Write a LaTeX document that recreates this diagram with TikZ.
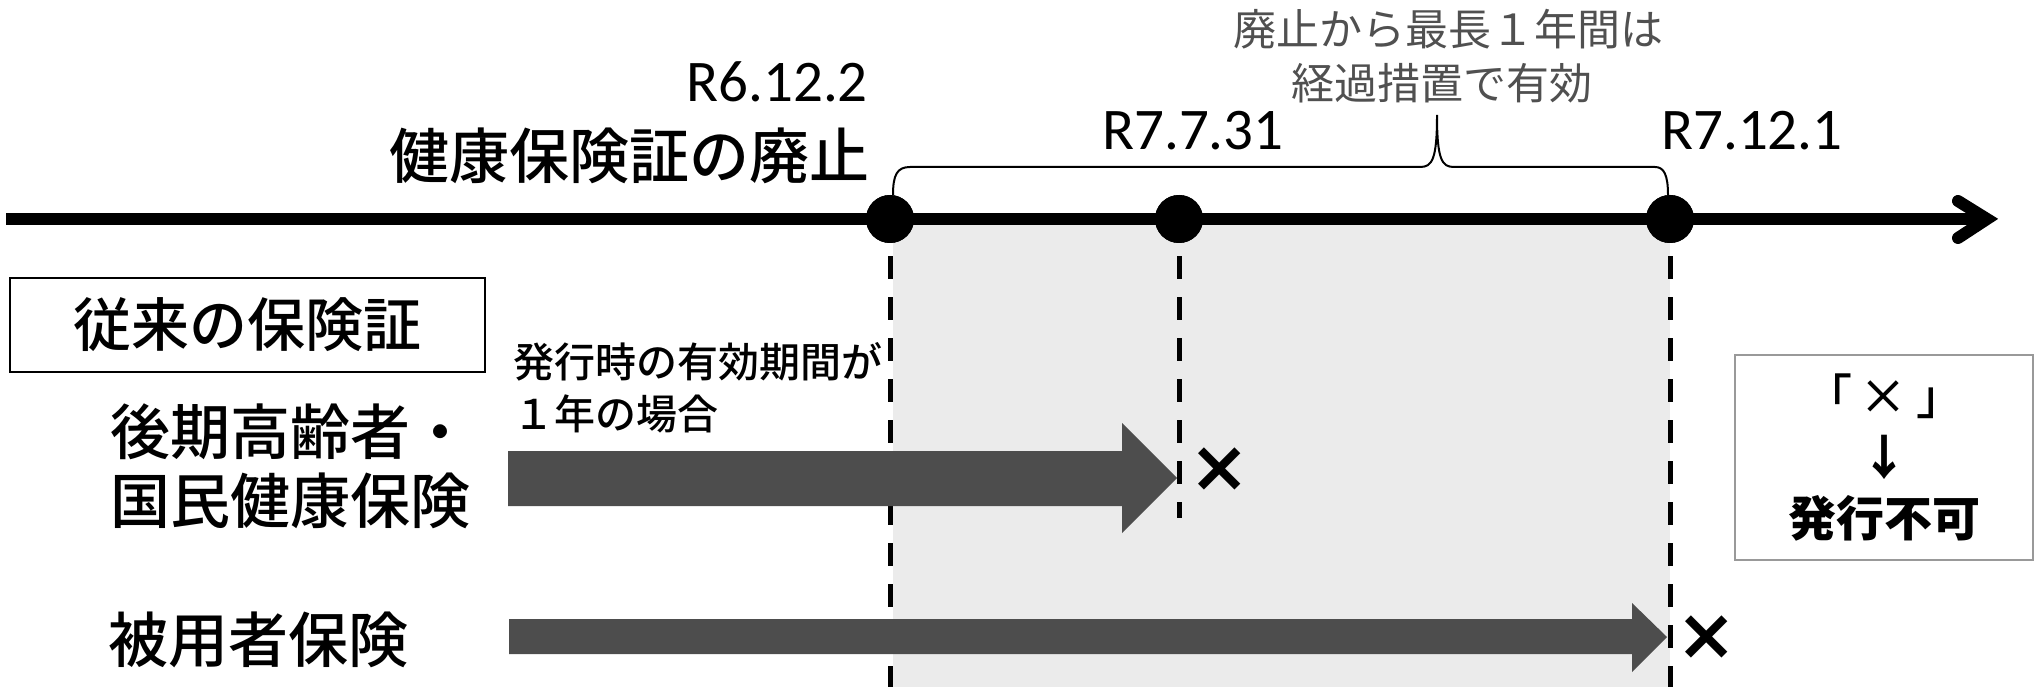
\documentclass[tikz,border=0pt]{standalone}
\usepackage{fontspec}
\setmainfont{Carlito}
\newfontfamily\jp{Noto Sans CJK JP}
\newfontfamily\jpm{Noto Sans CJK JP Medium}
\newfontfamily\dv{DejaVu Sans}
\definecolor{periodgray}{HTML}{EBEBEB}
\definecolor{barc}{HTML}{4D4D4D}
\definecolor{notec}{HTML}{505050}
\definecolor{boxc}{HTML}{999999}
\begin{document}
\begin{tikzpicture}[x=1pt,y=-1pt,
  dot/.style={circle,fill=black,minimum size=48pt,inner sep=0pt},
  dashline/.style={line width=5pt,dash pattern=on 23pt off 18pt,dash phase=28pt},
  jtext/.style={font=\jp\fontsize{#1}{#1}\selectfont,inner sep=0pt},
  jmtext/.style={font=\jpm\fontsize{#1}{#1}\selectfont,inner sep=0pt},
  rdate/.style={font=\fontsize{59}{59}\selectfont,inner sep=0pt},
  blockarrow/.style={fill=barc,draw=none},
  xmark/.style={font=\dv\bfseries\fontsize{72}{72}\selectfont,inner sep=0pt}]
\useasboundingbox (0,0) rectangle (2038,687);
% shaded period
\fill[periodgray] (893,225) rectangle (1670,687);
% dots
\node[dot] (d1) at (890,219) {};
\node[dot] (d2) at (1179,219) {};
\node[dot] (d3) at (1670,219) {};
\coordinate (d1end) at (890,687);
\coordinate (d2end) at (1179,518);
\coordinate (d3end) at (1670,687);
\draw[dashline] (d1.south) -- (d1end);
\draw[dashline] (d2.south) -- (d2end);
\draw[dashline] (d3.south) -- (d3end);
% timeline
\coordinate (tstart) at (6,219);
\coordinate (tend) at (1982,219);
\draw[line width=12pt] (tstart) -- (tend);
\draw[line width=12pt,line cap=round,line join=miter] (1958,201) -- (1987,219) -- (1958,238);
\node[dot] at (d1) {};
\node[dot] at (d2) {};
\node[dot] at (d3) {};
% brace
\draw[line width=2pt] (893,195) .. controls (893,175) and (897,167) .. (910,167) -- (1420,167)
  .. controls (1432,167) and (1437,160) .. (1437,115)
  .. controls (1437,160) and (1442,167) .. (1454,167) -- (1655,167)
  .. controls (1664,167) and (1668,175) .. (1668,195);
\node[jtext=43,text=notec,anchor=base] (note1) at (1448,46) {廃止から最長１年間は};
\node[jtext=43,text=notec,anchor=base] (note2) at (1442,100) {経過措置で有効};
% dates
\node[rdate,anchor=base east] (r1) at (868,102) {R6.12.2};
\node[jmtext=60,anchor=base east] (abol) at (870,179) {健康保険証の廃止};
\node[rdate,anchor=base west] (r2) at (1102,150) {R7.7.31};
\node[rdate,anchor=base west] (r3) at (1661,150) {R7.12.1};
% left labels
\node[jmtext=58,draw=black,line width=2.5pt,minimum width=475pt,minimum height=94pt] (conv) at (247.5,325) {従来の保険証};
\node[jmtext=41,anchor=base west] (valid1) at (513,377) {発行時の有効期間が};
\node[jmtext=41,anchor=base west] (valid2) at (513,429) {１年の場合};
\node[jmtext=60,anchor=base west] (kouki1) at (110,454) {後期高齢者・};
\node[jmtext=60,anchor=base west] (kouki2) at (110,523) {国民健康保険};
\node[jmtext=60,anchor=base west] (hiyo) at (108,662) {被用者保険};
% block arrows
\fill[blockarrow] (508,451) -- (1122,451) -- (1122,423) -- (1177,478) -- (1122,533) -- (1122,506) -- (508,506) -- cycle;
\fill[blockarrow] (509,619) -- (1632,619) -- (1632,603) -- (1667,637) -- (1632,672) -- (1632,654) -- (509,654) -- cycle;
% crosses
\node[xmark] (x1) at (1220,470) {×};
\node[xmark] (x2) at (1707,638) {×};
% legend box
\node[font=\jpm\fontsize{48}{61}\selectfont,inner sep=0pt,draw=boxc,line width=2pt,minimum width=298pt,minimum height=205pt,align=center] (legend) at (1884,457.5) {「\,×\,」\\{\jp\bfseries ↓}\\{\jp\bfseries 発行不可}};
\end{tikzpicture}
\end{document}
